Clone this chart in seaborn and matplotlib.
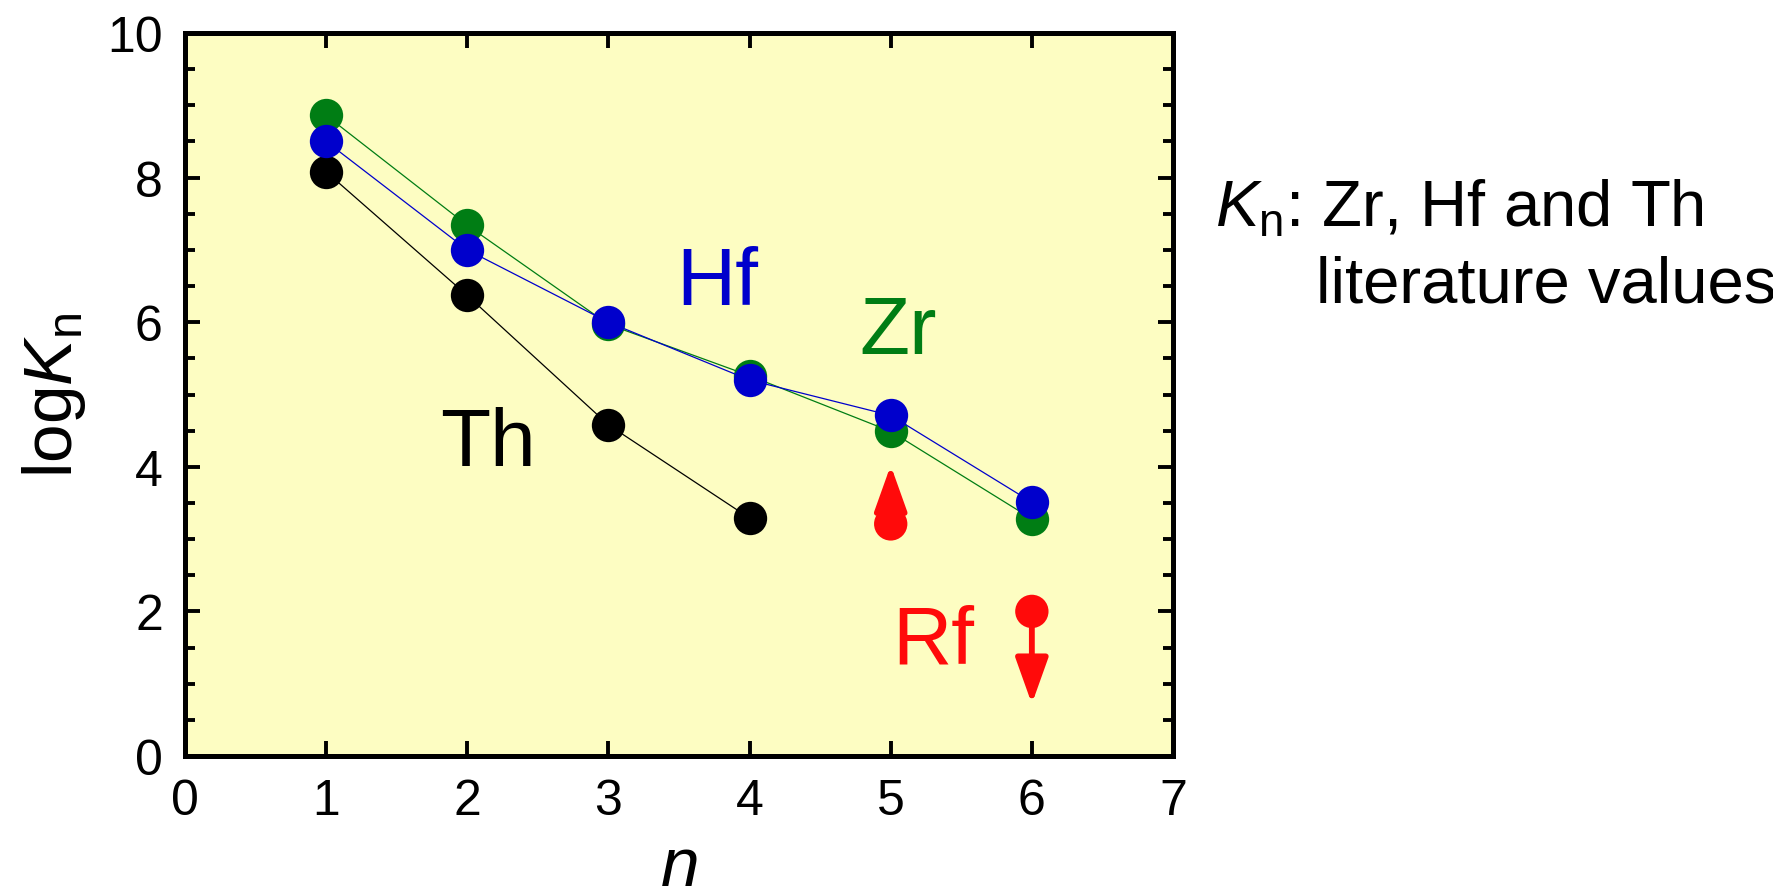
import matplotlib
matplotlib.use("Agg")
import matplotlib.pyplot as plt
import seaborn as sns
import pandas as pd

# ---- data ----
n_zr = [1, 2, 3, 4, 5, 6]
logk_zr = [8.86, 7.34, 5.97, 5.26, 4.49, 3.28]
n_hf = [1, 2, 3, 4, 5, 6]
logk_hf = [8.50, 7.00, 6.00, 5.20, 4.71, 3.51]
n_th = [1, 2, 3, 4]
logk_th = [8.08, 6.37, 4.58, 3.29]
n_rf = [5, 6]
logk_rf = [3.21, 2.00]
rf_limit_tip = [4.02, 0.72]   # arrow tips (lower / upper limits)

x_ticks = [0, 1, 2, 3, 4, 5, 6, 7]
y_ticks = [0, 2, 4, 6, 8, 10]

C_ZR = "#007D14"
C_HF = "#0000CC"
C_TH = "#000000"
C_RF = "#FF0A0A"
BG = "#FDFDC2"

sns.set_style("ticks")
plt.rcParams["font.family"] = ["Liberation Sans", "DejaVu Sans"]
plt.rcParams["mathtext.fontset"] = "custom"
plt.rcParams["mathtext.rm"] = "Liberation Sans"
plt.rcParams["mathtext.it"] = "Liberation Sans:italic"
plt.rcParams["text.color"] = "black"
plt.rcParams["axes.labelcolor"] = "black"
plt.rcParams["xtick.color"] = "black"
plt.rcParams["ytick.color"] = "black"

fig = plt.figure(figsize=(17.74, 8.87), dpi=100)
ax = fig.add_axes([185 / 1774, 1 - 757 / 887, 988 / 1774, 723 / 887])
ax.set_facecolor(BG)

df_zr = pd.DataFrame({"n": n_zr, "logK": logk_zr})
df_hf = pd.DataFrame({"n": n_hf, "logK": logk_hf})
df_th = pd.DataFrame({"n": n_th, "logK": logk_th})
df_rf = pd.DataFrame({"n": n_rf, "logK": logk_rf})

common = dict(marker="o", markersize=24, markeredgewidth=0, linewidth=0.9, ax=ax)
sns.lineplot(data=df_th, x="n", y="logK", color=C_TH, zorder=3, **common)
sns.lineplot(data=df_zr, x="n", y="logK", color=C_ZR, zorder=4, **common)
sns.lineplot(data=df_hf, x="n", y="logK", color=C_HF, zorder=5, **common)

# Rf limits with arrows
for xv, yv, tip in zip(n_rf, logk_rf, rf_limit_tip):
    ax.annotate("", xy=(xv, tip), xytext=(xv, yv),
                arrowprops=dict(arrowstyle="-|>,head_length=2.8,head_width=1.0",
                                mutation_scale=10, lw=4.2, color=C_RF,
                                shrinkA=0, shrinkB=0),
                zorder=6)
sns.scatterplot(data=df_rf, x="n", y="logK", color=C_RF, s=24 ** 2,
                edgecolor="none", linewidth=0, zorder=7, ax=ax)

# element labels
lab_fs = 59
ax.text(3.77, 6.25, "Hf", color=C_HF, fontsize=lab_fs, ha="center", va="baseline")
ax.text(5.05, 5.58, "Zr", color=C_ZR, fontsize=lab_fs, ha="center", va="baseline")
ax.text(2.15, 4.02, "Th", color=C_TH, fontsize=lab_fs, ha="center", va="baseline")
ax.text(5.30, 1.30, "Rf", color=C_RF, fontsize=lab_fs, ha="center", va="baseline")

ax.set_xlim(0, 7)
ax.set_ylim(0, 10)
ax.set_xticks(x_ticks)
ax.set_yticks(y_ticks)
ax.set_yticks([v / 2 for v in range(0, 21)], minor=True)
ax.set_xticklabels([str(t) for t in x_ticks])
ax.set_yticklabels([str(t) for t in y_ticks])

for s in ax.spines.values():
    s.set_visible(True)
    s.set_linewidth(3.6)
    s.set_color("black")

ax.tick_params(axis="both", which="major", direction="in", length=10.5, width=2.8,
               labelsize=36, top=True, right=True, colors="black")
ax.tick_params(axis="y", which="minor", direction="in", length=7, width=2.8,
               left=True, right=True)
ax.tick_params(axis="x", which="major", pad=16)
ax.tick_params(axis="y", which="major", pad=16)

ax.set_xlabel("$n$", fontsize=50, labelpad=8)
ax.set_ylabel(r"log$\mathit{K}_{\mathrm{n}}$", fontsize=50, labelpad=14)

fig.text(1215 / 1774, 1 - 227 / 887, r"$\mathit{K}_{\mathrm{n}}$: Zr, Hf and Th",
         fontsize=47, ha="left", va="baseline")
fig.text(1316 / 1774, 1 - 303 / 887, "literature values",
         fontsize=47, ha="left", va="baseline")

fig.savefig("out.png", dpi=100, facecolor="white")
